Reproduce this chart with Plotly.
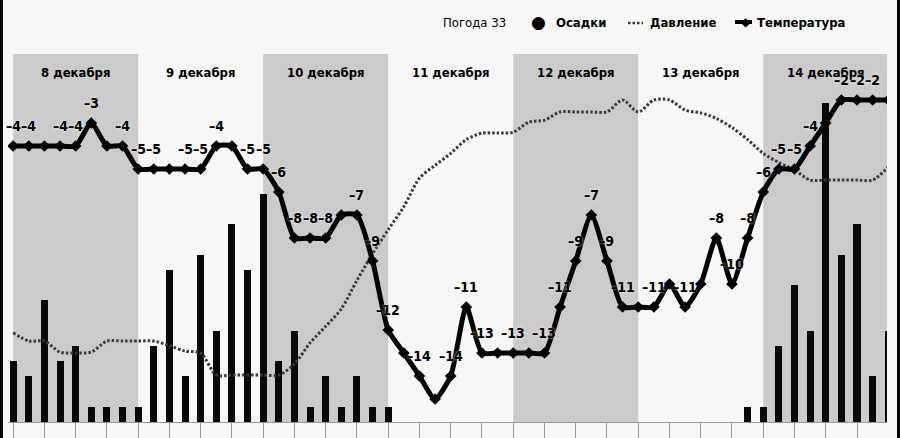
import plotly.graph_objects as go

# ---------------- data ----------------
days = ["8 декабря", "9 декабря", "10 декабря", "11 декабря",
        "12 декабря", "13 декабря", "14 декабря"]
steps_per_day = 8  # 3-hour steps

# temperature, °C (last point is the first step of the next day, partly cut)
temperature = [-4, -4, -4, -4, -4, -3, -4, -4,
               -5, -5, -5, -5, -5, -4, -4, -5,
               -5, -6, -8, -8, -8, -7, -7, -9,
               -12, -13, -14, -15, -14, -11, -13, -13,
               -13, -13, -13, -11, -9, -7, -9, -11,
               -11, -11, -10, -11, -10, -8, -10, -8,
               -6, -5, -5, -4, -3, -2, -2, -2,
               -2]

# which temperature values carry a label
temp_label_shown = [1, 1, 0, 1, 1, 1, 0, 1,
                    1, 1, 0, 1, 1, 1, 0, 1,
                    1, 1, 1, 1, 1, 0, 1, 1,
                    1, 0, 1, 0, 1, 1, 1, 0,
                    1, 0, 1, 1, 1, 1, 1, 1,
                    0, 1, 0, 1, 0, 1, 1, 1,
                    1, 1, 1, 1, 0, 1, 1, 1,
                    0]

# precipitation, mm
precipitation = [0.4, 0.3, 0.8, 0.4, 0.5, 0.1, 0.1, 0.1,
                 0.1, 0.5, 1.0, 0.3, 1.1, 0.6, 1.3, 1.0,
                 1.5, 0.4, 0.6, 0.1, 0.3, 0.1, 0.3, 0.1,
                 0.1, 0, 0, 0, 0, 0, 0, 0,
                 0, 0, 0, 0, 0, 0, 0, 0,
                 0, 0, 0, 0, 0, 0, 0, 0.1,
                 0.1, 0.5, 0.9, 0.6, 2.1, 1.1, 1.3, 0.3,
                 0.6]

# pressure, mm Hg
pressure = [739.7, 738.8, 738.8, 737.6, 737.5, 737.6, 738.8, 738.8,
            738.8, 738.8, 738.3, 737.7, 737.5, 735.1, 735.1, 735.1,
            735.1, 735.1, 736.3, 738.6, 740.4, 742.3, 745.4, 748.3,
            750.9, 753.4, 756.5, 757.9, 759.2, 760.7, 761.4, 761.4,
            761.5, 762.6, 762.8, 763.7, 763.7, 763.7, 763.7, 765.0,
            763.7, 765.0, 765.0, 763.9, 763.6, 763.0, 762.0, 760.7,
            759.2, 758.2, 757.4, 756.3, 756.3, 756.3, 756.3, 756.3,
            757.7]

title_text = "Погода 33"
legend_names = ["Осадки", "Давление", "Температура"]

# ---------------- figure ----------------
W, H = 900, 438
ML, MR, MT, MB = 8, 13, 54, 16
PW, PH = W - ML - MR, H - MT - MB

FONT = "Liberation Sans Narrow, DejaVu Sans Condensed, Arial Narrow, sans-serif"
BG = "#f7f7f7"
BAND = "#cbcbcb"
PRESS = "#3a3a3a"


def px_x(p):
    return (p - ML) / PW


def px_y(p):
    return (H - MB - p) / PH


xs = list(range(len(temperature)))

fig = go.Figure()

fig.add_trace(go.Bar(
    x=xs, y=precipitation, width=0.45,
    marker=dict(color="#080808", line=dict(width=0)),
    yaxis="y", showlegend=False, hoverinfo="skip"))

fig.add_trace(go.Scatter(
    x=xs, y=pressure, mode="lines",
    line=dict(color=PRESS, width=3, dash="2.5px,2px", shape="spline", smoothing=0.8),
    yaxis="y2", showlegend=False, hoverinfo="skip"))

fig.add_trace(go.Scatter(
    x=xs, y=temperature, mode="lines+markers",
    line=dict(color="#000000", width=5, shape="spline", smoothing=0.6),
    marker=dict(symbol="diamond", size=9, color="#000000"),
    yaxis="y3", showlegend=False, hoverinfo="skip"))

shapes = []
annotations = []

# day bands and day names
for k, name in enumerate(days):
    x0 = k * steps_per_day
    x1 = x0 + steps_per_day
    if k % 2 == 0:
        shapes.append(dict(type="rect", xref="x", yref="paper",
                           x0=x0, x1=x1, y0=0, y1=1,
                           fillcolor=BAND, line=dict(width=0), layer="below"))
    annotations.append(dict(x=(x0 + x1) / 2, y=px_y(72),
                            xref="x", yref="paper", text=name, showarrow=False,
                            font=dict(family=FONT, size=13, color="#000", weight="bold"),
                            xanchor="center", yanchor="middle"))

# temperature labels
for i, t in enumerate(temperature):
    if temp_label_shown[i]:
        annotations.append(dict(x=i, y=t, xref="x", yref="y3",
                                text=f"–{abs(t)}" if t < 0 else str(t),
                                showarrow=False, yshift=20,
                                xanchor="center", yanchor="middle",
                                font=dict(family=FONT, size=14, color="#000", weight="bold",
                                          shadow="0px 0px 3px #f2f2f2")))

# header: title + legend
annotations.append(dict(x=px_x(441), y=px_y(22), xref="paper", yref="paper",
                        text=title_text, showarrow=False, xanchor="left", yanchor="middle",
                        font=dict(family=FONT, size=13, color="#000")))
annotations.append(dict(x=px_x(538), y=px_y(22), xref="paper", yref="paper",
                        text="●", showarrow=False, xanchor="center", yanchor="middle",
                        font=dict(family="DejaVu Sans", size=17, color="#000")))
annotations.append(dict(x=px_x(554), y=px_y(22), xref="paper", yref="paper",
                        text=legend_names[0], showarrow=False, xanchor="left", yanchor="middle",
                        font=dict(family=FONT, size=13, color="#000", weight="bold")))
shapes.append(dict(type="line", xref="paper", yref="paper",
                   x0=px_x(628), x1=px_x(643), y0=px_y(23), y1=px_y(23),
                   line=dict(color=PRESS, width=2.5, dash="2.5px,2px")))
annotations.append(dict(x=px_x(648), y=px_y(22), xref="paper", yref="paper",
                        text=legend_names[1], showarrow=False, xanchor="left", yanchor="middle",
                        font=dict(family=FONT, size=13, color="#000", weight="bold")))
shapes.append(dict(type="line", xref="paper", yref="paper",
                   x0=px_x(735), x1=px_x(752), y0=px_y(22), y1=px_y(22),
                   line=dict(color="#000", width=4)))
annotations.append(dict(x=px_x(746), y=px_y(22), xref="paper", yref="paper",
                        text="◆", showarrow=False, xanchor="center", yanchor="middle",
                        font=dict(family="DejaVu Sans", size=12, color="#000")))
annotations.append(dict(x=px_x(755), y=px_y(22), xref="paper", yref="paper",
                        text=legend_names[2], showarrow=False, xanchor="left", yanchor="middle",
                        font=dict(family=FONT, size=13, color="#000", weight="bold")))

# black frame strips at the left and right edges
shapes.append(dict(type="rect", xref="paper", yref="paper",
                   x0=px_x(0), x1=px_x(3), y0=px_y(H), y1=px_y(0),
                   fillcolor="#000", line=dict(width=0), layer="above"))
shapes.append(dict(type="rect", xref="paper", yref="paper",
                   x0=px_x(897), x1=px_x(900), y0=px_y(H), y1=px_y(0),
                   fillcolor="#000", line=dict(width=0), layer="above"))

fig.update_layout(
    template="none",
    width=W, height=H,
    margin=dict(l=ML, r=MR, t=MT, b=MB, pad=0, autoexpand=False),
    paper_bgcolor=BG, plot_bgcolor=BG,
    bargap=0, showlegend=False,
    shapes=shapes, annotations=annotations,
    xaxis=dict(range=[-0.33, 55.92], tick0=0, dtick=2, ticks="outside", ticklen=16,
               tickcolor="#9a9a9a", tickwidth=1, showticklabels=False,
               showline=True, linecolor="#9a9a9a", linewidth=1, automargin=False,
               showgrid=False, zeroline=False, fixedrange=True),
    yaxis=dict(range=[0, 2.42], visible=False, showgrid=False, zeroline=False,
               automargin=False, fixedrange=True),
    yaxis2=dict(range=[730, 770], overlaying="y", visible=False, showgrid=False,
                zeroline=False, automargin=False),
    yaxis3=dict(range=[-16, 0], overlaying="y", visible=False, showgrid=False,
                zeroline=False, automargin=False),
)

fig.write_html("out.html", config={"displayModeBar": False},
               post_script="document.body.style.margin='0';document.body.style.overflow='hidden';")
